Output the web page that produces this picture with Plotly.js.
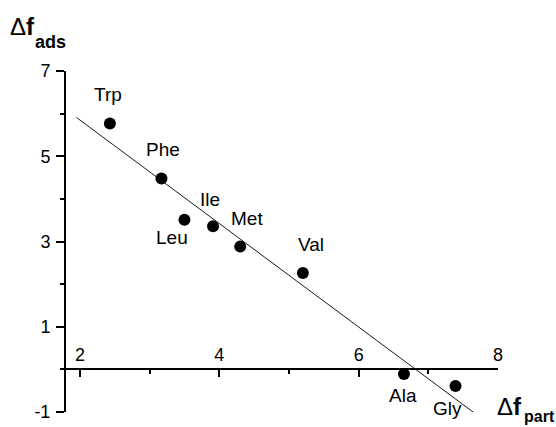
<!DOCTYPE html>
<html>
<head>
<meta charset="utf-8">
<script src="https://cdn.plot.ly/plotly-3.0.1.min.js"></script>
<style>
  html, body { margin: 0; padding: 0; background: #fff; }
  #chart { width: 556px; height: 427px; }
</style>
</head>
<body>
<div id="chart"></div>
<script>
// Amino acids: partition free energy vs adsorption free energy
const residues = ["Trp", "Phe", "Leu", "Ile", "Met", "Val", "Ala", "Gly"];
const dfPart   = [2.43, 3.17, 3.50, 3.91, 4.30, 5.20, 6.65, 7.39];
const dfAds    = [5.77, 4.48, 3.51, 3.36, 2.88, 2.26, -0.11, -0.39];

// Linear fit drawn across the data
const fitX = [1.95, 7.70];
const fitY = [5.91, -1.07];

// Tick labels (plain hyphen for negatives)
const xTickVals = [2, 4, 6, 8];
const xTickText = ["2", "4", "6", "8"];
const yTickVals = [-1, 1, 3, 5, 7];
const yTickText = ["-1", "1", "3", "5", "7"];

// Label offsets from each point, in screen pixels (dx right, dy up)
const labelDx = [-2, 2, -12, -3, 7, 8, -1, -8];
const labelDy = [29, 29, -18, 27, 28, 29, -21, -22];

const FONT = "Arial, 'Liberation Sans', sans-serif";

const traces = [
  {
    x: fitX, y: fitY, type: "scatter", mode: "lines",
    line: { color: "#1a1a1a", width: 1 },
    hoverinfo: "skip", showlegend: false
  },
  {
    x: dfPart, y: dfAds, type: "scatter", mode: "markers",
    marker: { color: "#000", size: 12 },
    text: residues, showlegend: false
  }
];

const annotations = residues.map((r, i) => ({
  x: dfPart[i], y: dfAds[i], xref: "x", yref: "y",
  text: r, showarrow: false,
  xanchor: "center", yanchor: "middle",
  xshift: labelDx[i], yshift: labelDy[i],
  font: { family: FONT, size: 19, color: "#000" }
}));

// Axis titles: Δf with bold subscripts, placed in paper space
annotations.push(
  { xref: "paper", yref: "paper", x: -0.135, y: 1.085, xanchor: "left", yanchor: "bottom",
    text: "Δ<b>f</b>", showarrow: false, font: { family: FONT, size: 24, color: "#000" } },
  { xref: "paper", yref: "paper", x: -0.077, y: 1.05, xanchor: "left", yanchor: "bottom",
    text: "<b>ads</b>", showarrow: false, font: { family: FONT, size: 18, color: "#000" } },
  { xref: "paper", yref: "paper", x: 0.992, y: -0.03, xanchor: "left", yanchor: "bottom",
    text: "Δ<b>f</b>", showarrow: false, font: { family: FONT, size: 24, color: "#000" } },
  { xref: "paper", yref: "paper", x: 1.056, y: -0.045, xanchor: "left", yanchor: "bottom",
    text: "<b>part</b>", showarrow: false, font: { family: FONT, size: 16, color: "#000" } }
);

const layout = {
  width: 556, height: 427,
  margin: { l: 66, r: 58, t: 71, b: 15, pad: 0 },
  paper_bgcolor: "#fff", plot_bgcolor: "#fff",
  font: { family: FONT, size: 18, color: "#000" },
  xaxis: {
    range: [1.8, 8], anchor: "free", position: 0.125, side: "top",
    tickmode: "array", tickvals: xTickVals, ticktext: xTickText,
    ticks: "inside", ticklen: 7, tickwidth: 2, tickcolor: "#000",
    minor: { tickmode: "linear", tick0: 1, dtick: 2, ticks: "inside", ticklen: 4, tickwidth: 2, tickcolor: "#000" },
    showline: true, linecolor: "#000", linewidth: 2,
    showgrid: false, zeroline: false,
    tickfont: { family: FONT, size: 18 }
  },
  yaxis: {
    range: [-1, 7],
    tickmode: "array", tickvals: yTickVals, ticktext: yTickText,
    ticks: "outside", ticklen: 8, tickwidth: 2, tickcolor: "#000",
    ticklabelstandoff: 2,
    minor: { tickmode: "linear", tick0: 0, dtick: 2, ticks: "outside", ticklen: 4, tickwidth: 2, tickcolor: "#000" },
    showline: true, linecolor: "#000", linewidth: 2,
    showgrid: false, zeroline: false,
    tickfont: { family: FONT, size: 18 }
  },
  annotations: annotations
};

Plotly.newPlot("chart", traces, layout, { displayModeBar: false, staticPlot: true });
</script>
</body>
</html>
